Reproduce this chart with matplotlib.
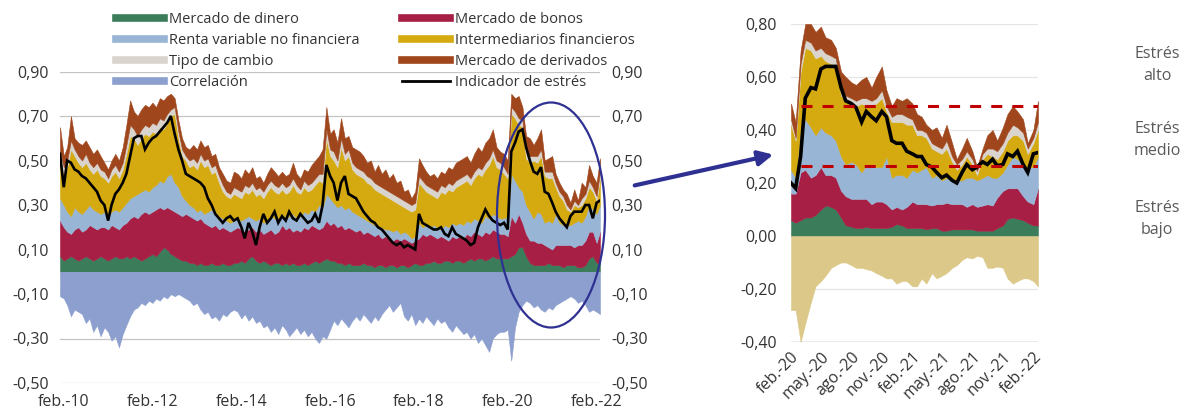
import matplotlib
matplotlib.use("Agg")
import matplotlib.pyplot as plt
import numpy as np
import pandas as pd
from matplotlib.lines import Line2D
from matplotlib.patches import Ellipse, FancyArrowPatch
from matplotlib.ticker import FuncFormatter

plt.rcParams["font.family"] = ["Open Sans", "DejaVu Sans"]

# -------------------------------
# Left panel: monthly values, Jan 2010 - Mar 2022 (one row per year)
# -------------------------------
dinero = [
    0.07, 0.05, 0.06, 0.07, 0.06, 0.05, 0.06, 0.07, 0.06, 0.05, 0.06, 0.07,
    0.06, 0.05, 0.06, 0.07, 0.06, 0.06, 0.07, 0.06, 0.07, 0.06, 0.05, 0.06,
    0.07, 0.08, 0.07, 0.09, 0.11, 0.10, 0.08, 0.07, 0.06, 0.05, 0.05, 0.04,
    0.04, 0.03, 0.04, 0.03, 0.03, 0.04, 0.03, 0.03, 0.04, 0.03, 0.03, 0.04,
    0.04, 0.05, 0.04, 0.06, 0.07, 0.05, 0.04, 0.05, 0.04, 0.03, 0.04, 0.04,
    0.03, 0.04, 0.03, 0.04, 0.03, 0.03, 0.04, 0.03, 0.04, 0.05, 0.04, 0.05,
    0.06, 0.05, 0.05, 0.04, 0.04, 0.03, 0.04, 0.03, 0.03, 0.03, 0.04, 0.03,
    0.03, 0.02, 0.03, 0.03, 0.02, 0.03, 0.03, 0.02, 0.03, 0.03, 0.02, 0.03,
    0.04, 0.03, 0.03, 0.04, 0.04, 0.05, 0.04, 0.04, 0.05, 0.05, 0.04, 0.05,
    0.05, 0.04, 0.05, 0.06, 0.05, 0.06, 0.06, 0.05, 0.06, 0.07, 0.06, 0.06,
    0.06, 0.06, 0.07, 0.08, 0.11, 0.11, 0.07, 0.04, 0.03, 0.03, 0.03, 0.03,
    0.04, 0.03, 0.03, 0.03, 0.02, 0.03, 0.03, 0.03, 0.02, 0.02, 0.03, 0.06,
    0.07, 0.04, 0.04,
]
bonos = [
    0.16, 0.15, 0.12, 0.10, 0.13, 0.15, 0.12, 0.12, 0.15, 0.15, 0.13, 0.13,
    0.14, 0.14, 0.15, 0.13, 0.13, 0.15, 0.15, 0.18, 0.18, 0.18, 0.21, 0.21,
    0.19, 0.19, 0.21, 0.20, 0.17, 0.19, 0.20, 0.20, 0.20, 0.20, 0.21, 0.21,
    0.20, 0.20, 0.20, 0.19, 0.18, 0.16, 0.18, 0.16, 0.16, 0.16, 0.15, 0.15,
    0.16, 0.14, 0.14, 0.13, 0.13, 0.13, 0.15, 0.12, 0.14, 0.16, 0.13, 0.14,
    0.18, 0.15, 0.17, 0.14, 0.16, 0.15, 0.16, 0.16, 0.17, 0.15, 0.15, 0.15,
    0.17, 0.16, 0.17, 0.16, 0.17, 0.16, 0.16, 0.16, 0.15, 0.16, 0.13, 0.15,
    0.14, 0.14, 0.14, 0.12, 0.14, 0.12, 0.11, 0.13, 0.11, 0.12, 0.12, 0.10,
    0.10, 0.12, 0.14, 0.12, 0.13, 0.11, 0.11, 0.12, 0.10, 0.09, 0.12, 0.10,
    0.11, 0.11, 0.12, 0.10, 0.13, 0.11, 0.10, 0.13, 0.11, 0.12, 0.12, 0.11,
    0.11, 0.10, 0.18, 0.14, 0.15, 0.11, 0.10, 0.10, 0.11, 0.10, 0.10, 0.09,
    0.07, 0.07, 0.09, 0.09, 0.10, 0.09, 0.09, 0.08, 0.10, 0.10, 0.11, 0.12,
    0.11, 0.09, 0.14,
]
renta_var = [
    0.10, 0.10, 0.09, 0.08, 0.10, 0.07, 0.08, 0.09, 0.09, 0.08, 0.08, 0.06,
    0.07, 0.06, 0.06, 0.08, 0.08, 0.08, 0.09, 0.09, 0.09, 0.11, 0.10, 0.10,
    0.10, 0.11, 0.11, 0.12, 0.12, 0.14, 0.16, 0.13, 0.12, 0.09, 0.06, 0.05,
    0.05, 0.04, 0.04, 0.04, 0.06, 0.08, 0.06, 0.06, 0.04, 0.04, 0.04, 0.04,
    0.04, 0.04, 0.06, 0.06, 0.04, 0.05, 0.05, 0.05, 0.05, 0.06, 0.07, 0.05,
    0.05, 0.05, 0.05, 0.08, 0.05, 0.07, 0.07, 0.07, 0.07, 0.07, 0.11, 0.09,
    0.12, 0.12, 0.09, 0.09, 0.09, 0.09, 0.09, 0.08, 0.08, 0.06, 0.07, 0.05,
    0.05, 0.05, 0.03, 0.05, 0.03, 0.04, 0.04, 0.04, 0.03, 0.03, 0.03, 0.02,
    0.02, 0.07, 0.03, 0.05, 0.03, 0.05, 0.05, 0.03, 0.06, 0.06, 0.06, 0.06,
    0.06, 0.06, 0.06, 0.06, 0.06, 0.06, 0.06, 0.07, 0.07, 0.07, 0.07, 0.07,
    0.07, 0.09, 0.19, 0.19, 0.12, 0.14, 0.13, 0.13, 0.10, 0.14, 0.13, 0.10,
    0.12, 0.12, 0.14, 0.10, 0.09, 0.09, 0.09, 0.11, 0.11, 0.10, 0.11, 0.12,
    0.10, 0.13, 0.12,
]
intermediarios = [
    0.17, 0.14, 0.20, 0.30, 0.23, 0.22, 0.21, 0.21, 0.16, 0.16, 0.19, 0.17,
    0.15, 0.15, 0.16, 0.17, 0.15, 0.17, 0.22, 0.28, 0.26, 0.22, 0.24, 0.25,
    0.25, 0.25, 0.23, 0.24, 0.24, 0.24, 0.26, 0.31, 0.22, 0.18, 0.18, 0.17,
    0.19, 0.19, 0.22, 0.21, 0.21, 0.16, 0.18, 0.15, 0.12, 0.11, 0.11, 0.12,
    0.10, 0.10, 0.12, 0.10, 0.13, 0.11, 0.11, 0.11, 0.13, 0.13, 0.12, 0.12,
    0.11, 0.11, 0.11, 0.13, 0.12, 0.10, 0.11, 0.10, 0.09, 0.12, 0.11, 0.11,
    0.25, 0.19, 0.19, 0.18, 0.26, 0.22, 0.23, 0.19, 0.18, 0.18, 0.18, 0.17,
    0.17, 0.16, 0.16, 0.15, 0.15, 0.14, 0.14, 0.12, 0.13, 0.11, 0.11, 0.12,
    0.12, 0.18, 0.18, 0.15, 0.15, 0.13, 0.13, 0.17, 0.14, 0.17, 0.14, 0.17,
    0.17, 0.19, 0.18, 0.17, 0.18, 0.21, 0.21, 0.21, 0.24, 0.26, 0.22, 0.22,
    0.20, 0.17, 0.27, 0.28, 0.28, 0.29, 0.21, 0.22, 0.26, 0.22, 0.26, 0.21,
    0.19, 0.20, 0.12, 0.12, 0.11, 0.07, 0.06, 0.08, 0.06, 0.08, 0.08, 0.08,
    0.08, 0.06, 0.12,
]
tipo_cambio = [
    0.04, 0.03, 0.03, 0.04, 0.03, 0.03, 0.03, 0.04, 0.03, 0.03, 0.03, 0.03,
    0.03, 0.02, 0.03, 0.03, 0.03, 0.03, 0.04, 0.05, 0.04, 0.04, 0.04, 0.04,
    0.04, 0.04, 0.04, 0.04, 0.04, 0.04, 0.03, 0.03, 0.03, 0.03, 0.02, 0.03,
    0.03, 0.03, 0.03, 0.03, 0.03, 0.03, 0.03, 0.03, 0.03, 0.02, 0.02, 0.03,
    0.03, 0.03, 0.03, 0.03, 0.03, 0.03, 0.03, 0.03, 0.03, 0.03, 0.03, 0.03,
    0.03, 0.03, 0.03, 0.03, 0.03, 0.02, 0.03, 0.03, 0.03, 0.03, 0.03, 0.04,
    0.04, 0.03, 0.04, 0.03, 0.04, 0.03, 0.03, 0.03, 0.03, 0.03, 0.03, 0.03,
    0.03, 0.03, 0.03, 0.03, 0.03, 0.03, 0.03, 0.03, 0.03, 0.03, 0.03, 0.03,
    0.03, 0.03, 0.03, 0.03, 0.03, 0.03, 0.03, 0.03, 0.03, 0.03, 0.03, 0.03,
    0.03, 0.03, 0.03, 0.03, 0.03, 0.03, 0.03, 0.03, 0.03, 0.03, 0.03, 0.03,
    0.03, 0.02, 0.03, 0.03, 0.03, 0.03, 0.03, 0.03, 0.02, 0.03, 0.03, 0.02,
    0.03, 0.03, 0.02, 0.02, 0.02, 0.02, 0.01, 0.02, 0.01, 0.03, 0.02, 0.03,
    0.02, 0.02, 0.03,
]
derivados = [
    0.11, 0.05, 0.06, 0.11, 0.05, 0.06, 0.07, 0.06, 0.07, 0.06, 0.06, 0.06,
    0.04, 0.04, 0.04, 0.05, 0.05, 0.07, 0.09, 0.11, 0.08, 0.09, 0.09, 0.09,
    0.09, 0.09, 0.08, 0.09, 0.09, 0.08, 0.07, 0.04, 0.05, 0.05, 0.04, 0.05,
    0.06, 0.06, 0.06, 0.06, 0.06, 0.05, 0.05, 0.04, 0.05, 0.05, 0.05, 0.07,
    0.07, 0.06, 0.07, 0.06, 0.07, 0.05, 0.05, 0.04, 0.05, 0.06, 0.06, 0.05,
    0.05, 0.05, 0.05, 0.07, 0.05, 0.05, 0.05, 0.06, 0.08, 0.08, 0.08, 0.11,
    0.10, 0.07, 0.10, 0.08, 0.09, 0.07, 0.06, 0.07, 0.08, 0.08, 0.07, 0.06,
    0.08, 0.05, 0.09, 0.06, 0.09, 0.06, 0.09, 0.06, 0.08, 0.04, 0.06, 0.03,
    0.05, 0.08, 0.07, 0.06, 0.05, 0.07, 0.06, 0.06, 0.06, 0.07, 0.07, 0.08,
    0.08, 0.08, 0.08, 0.07, 0.08, 0.09, 0.08, 0.09, 0.09, 0.09, 0.06, 0.05,
    0.06, 0.06, 0.06, 0.06, 0.10, 0.06, 0.07, 0.08, 0.05, 0.08, 0.09, 0.05,
    0.06, 0.07, 0.04, 0.04, 0.03, 0.05, 0.03, 0.05, 0.02, 0.07, 0.03, 0.07,
    0.05, 0.06, 0.06,
]
correlacion = [
    -0.11, -0.12, -0.15, -0.20, -0.17, -0.18, -0.19, -0.23, -0.21, -0.27, -0.24, -0.29,
    -0.25, -0.27, -0.31, -0.29, -0.34, -0.28, -0.24, -0.20, -0.17, -0.16, -0.14, -0.15,
    -0.13, -0.14, -0.12, -0.13, -0.11, -0.12, -0.10, -0.11, -0.10, -0.11, -0.12, -0.13,
    -0.15, -0.14, -0.17, -0.19, -0.18, -0.21, -0.20, -0.22, -0.19, -0.20, -0.18, -0.17,
    -0.18, -0.21, -0.19, -0.22, -0.20, -0.23, -0.22, -0.25, -0.24, -0.27, -0.25, -0.28,
    -0.24, -0.26, -0.29, -0.27, -0.25, -0.28, -0.26, -0.29, -0.27, -0.30, -0.32, -0.29,
    -0.30, -0.26, -0.22, -0.24, -0.21, -0.23, -0.25, -0.22, -0.20, -0.22, -0.19, -0.21,
    -0.23, -0.20, -0.22, -0.19, -0.17, -0.15, -0.18, -0.16, -0.14, -0.20, -0.22, -0.19,
    -0.24, -0.21, -0.23, -0.20, -0.22, -0.24, -0.21, -0.23, -0.22, -0.25, -0.27, -0.24,
    -0.26, -0.28, -0.27, -0.30, -0.28, -0.32, -0.30, -0.33, -0.36, -0.30, -0.28, -0.27,
    -0.27, -0.26, -0.40, -0.25, -0.18, -0.15, -0.13, -0.14, -0.16, -0.15, -0.17, -0.18,
    -0.16, -0.17, -0.15, -0.14, -0.13, -0.12, -0.11, -0.12, -0.14, -0.13, -0.15, -0.18,
    -0.17, -0.18, -0.19,
]
indicador = [
    0.53, 0.38, 0.50, 0.49, 0.46, 0.45, 0.43, 0.42, 0.40, 0.38, 0.36, 0.32,
    0.30, 0.23, 0.30, 0.35, 0.37, 0.40, 0.44, 0.52, 0.60, 0.61, 0.61, 0.55,
    0.58, 0.60, 0.61, 0.63, 0.65, 0.67, 0.70, 0.62, 0.55, 0.50, 0.44, 0.43,
    0.42, 0.41, 0.40, 0.38, 0.33, 0.30, 0.26, 0.24, 0.22, 0.24, 0.25, 0.23,
    0.24, 0.20, 0.15, 0.22, 0.18, 0.12, 0.20, 0.26, 0.22, 0.24, 0.27, 0.22,
    0.25, 0.23, 0.27, 0.24, 0.23, 0.26, 0.24, 0.22, 0.23, 0.26, 0.22, 0.30,
    0.48, 0.43, 0.40, 0.32, 0.40, 0.43, 0.35, 0.34, 0.33, 0.30, 0.27, 0.25,
    0.23, 0.22, 0.20, 0.19, 0.17, 0.15, 0.13, 0.12, 0.13, 0.11, 0.12, 0.11,
    0.10, 0.26, 0.22, 0.21, 0.20, 0.19, 0.19, 0.20, 0.17, 0.16, 0.20, 0.17,
    0.16, 0.15, 0.14, 0.12, 0.13, 0.20, 0.24, 0.28, 0.25, 0.23, 0.22, 0.21,
    0.22, 0.19, 0.54, 0.58, 0.63, 0.64, 0.56, 0.50, 0.45, 0.44, 0.47, 0.36,
    0.35, 0.31, 0.27, 0.24, 0.22, 0.20, 0.25, 0.27, 0.27, 0.27, 0.30, 0.30,
    0.24, 0.31, 0.32,
]

# -------------------------------
# Right panel: semi-monthly values, Feb 2020 - Mar 2022 (one row per 5 months)
# -------------------------------
dinero_z = [
    0.06, 0.05, 0.06, 0.07, 0.07, 0.08, 0.10, 0.115, 0.11, 0.10,
    0.07, 0.04, 0.035, 0.03, 0.03, 0.035, 0.03, 0.03, 0.03, 0.03,
    0.035, 0.045, 0.04, 0.03, 0.03, 0.03, 0.03, 0.025, 0.03, 0.03,
    0.02, 0.02, 0.025, 0.025, 0.025, 0.025, 0.025, 0.02, 0.02, 0.02,
    0.02, 0.03, 0.04, 0.065, 0.07, 0.065, 0.06, 0.05, 0.04, 0.04,
]
bonos_z = [
    0.10, 0.11, 0.18, 0.18, 0.15, 0.15, 0.16, 0.115, 0.12, 0.12,
    0.10, 0.11, 0.105, 0.11, 0.11, 0.105, 0.09, 0.10, 0.10, 0.09,
    0.065, 0.065, 0.06, 0.08, 0.10, 0.09, 0.09, 0.095, 0.085, 0.09,
    0.10, 0.105, 0.095, 0.095, 0.095, 0.085, 0.095, 0.09, 0.095, 0.10,
    0.095, 0.115, 0.13, 0.115, 0.11, 0.115, 0.09, 0.08, 0.08, 0.14,
]
renta_var_z = [
    0.09, 0.06, 0.16, 0.19, 0.19, 0.15, 0.15, 0.16, 0.15, 0.14,
    0.13, 0.12, 0.14, 0.13, 0.10, 0.13, 0.14, 0.13, 0.13, 0.18,
    0.12, 0.12, 0.13, 0.11, 0.12, 0.12, 0.13, 0.14, 0.105, 0.11,
    0.09, 0.095, 0.09, 0.09, 0.09, 0.11, 0.10, 0.10, 0.105, 0.11,
    0.105, 0.075, 0.07, 0.09, 0.12, 0.11, 0.12, 0.13, 0.14, 0.12,
]
intermediarios_z = [
    0.17, 0.14, 0.22, 0.27, 0.29, 0.29, 0.27, 0.27, 0.27, 0.28,
    0.23, 0.24, 0.22, 0.22, 0.26, 0.22, 0.23, 0.24, 0.26, 0.17,
    0.21, 0.20, 0.20, 0.20, 0.17, 0.14, 0.13, 0.11, 0.11, 0.09,
    0.10, 0.11, 0.07, 0.04, 0.06, 0.08, 0.05, 0.02, 0.07, 0.08,
    0.08, 0.07, 0.08, 0.09, 0.08, 0.09, 0.09, 0.05, 0.09, 0.10,
]
tipo_cambio_z = [
    0.02, 0.01, 0.03, 0.03, 0.03, 0.03, 0.03, 0.03, 0.03, 0.03,
    0.03, 0.02, 0.02, 0.02, 0.02, 0.03, 0.02, 0.02, 0.03, 0.02,
    0.02, 0.03, 0.03, 0.03, 0.02, 0.02, 0.02, 0.02, 0.02, 0.02,
    0.02, 0.03, 0.02, 0.02, 0.02, 0.02, 0.02, 0.015, 0.02, 0.02,
    0.03, 0.03, 0.03, 0.03, 0.04, 0.03, 0.03, 0.02, 0.02, 0.03,
]
derivados_z = [
    0.06, 0.06, 0.05, 0.06, 0.07, 0.07, 0.08, 0.06, 0.06, 0.04,
    0.06, 0.07, 0.06, 0.06, 0.07, 0.08, 0.05, 0.08, 0.09, 0.06,
    0.04, 0.06, 0.05, 0.07, 0.06, 0.06, 0.05, 0.03, 0.05, 0.07,
    0.04, 0.06, 0.05, 0.02, 0.04, 0.05, 0.03, 0.015, 0.02, 0.05,
    0.07, 0.04, 0.06, 0.07, 0.07, 0.06, 0.05, 0.02, 0.03, 0.08,
]
correlacion_z = [
    -0.28, -0.28, -0.40, -0.33, -0.25, -0.19, -0.17, -0.15, -0.12, -0.11,
    -0.10, -0.10, -0.11, -0.12, -0.12, -0.125, -0.13, -0.14, -0.15, -0.16,
    -0.16, -0.18, -0.17, -0.17, -0.19, -0.19, -0.16, -0.18, -0.14, -0.16,
    -0.15, -0.14, -0.12, -0.11, -0.09, -0.08, -0.085, -0.075, -0.08, -0.12,
    -0.12, -0.115, -0.12, -0.16, -0.18, -0.17, -0.16, -0.16, -0.17, -0.19,
]
indicador_z = [
    0.20, 0.18, 0.30, 0.52, 0.56, 0.555, 0.63, 0.64, 0.64, 0.64,
    0.56, 0.51, 0.50, 0.485, 0.43, 0.47, 0.45, 0.435, 0.47, 0.45,
    0.36, 0.35, 0.35, 0.32, 0.31, 0.30, 0.30, 0.27, 0.26, 0.24,
    0.22, 0.23, 0.21, 0.20, 0.24, 0.27, 0.25, 0.26, 0.28, 0.27,
    0.29, 0.265, 0.27, 0.31, 0.30, 0.32, 0.27, 0.24, 0.31, 0.315,
]

umbral_alto = 0.49
umbral_medio = 0.265

labels = [
    "Mercado de dinero", "Mercado de bonos", "Renta variable no financiera",
    "Intermediarios financieros", "Tipo de cambio", "Mercado de derivados",
    "Correlación", "Indicador de estrés",
]
ticks_left = ["feb.-10", "feb.-12", "feb.-14", "feb.-16", "feb.-18", "feb.-20", "feb.-22"]
ticks_right = ["feb.-20", "may.-20", "ago.-20", "nov.-20", "feb.-21",
               "may.-21", "ago.-21", "nov.-21", "feb.-22"]

# -------------------------------
# Style
# -------------------------------
stack_colors = ["#3b7d5a", "#a81f45", "#99b5d5", "#d4aa10", "#d9d4cd", "#a0461c"]
corr_color = "#8c9fcf"
corr_color_zoom = "#dcc98a"
navy = "#2e3192"
text_color = "#333333"

W, H = 1192, 412


def px_box(x0, y_top, x1, y_bottom):
    """Axes rectangle from pixel coordinates of the reference image."""
    return [x0 / W, 1 - y_bottom / H, (x1 - x0) / W, (y_bottom - y_top) / H]


def comma_fmt(v, _):
    return f"{round(v, 2) + 0.0:.2f}".replace(".", ",")


def draw_panel(ax, dates, series, corr, ind, corr_c, ind_lw):
    polys = ax.stackplot(dates, *series, colors=stack_colors, lw=0)
    for p, c in zip(polys, stack_colors):
        p.set_edgecolor(c)
        p.set_linewidth(0.4)
    ax.fill_between(dates, corr, 0, color=corr_c, lw=0.4, edgecolor=corr_c)
    ax.plot(dates, ind, color="black", lw=ind_lw, solid_joinstyle="miter")
    ax.set_xlim(dates[0], dates[-1])
    ax.set_axisbelow(True)
    for s in ax.spines.values():
        s.set_visible(False)
    ax.yaxis.set_major_formatter(FuncFormatter(comma_fmt))


fig = plt.figure(figsize=(W / 100, H / 100), dpi=100)

# Left panel
dates_m = pd.date_range("2010-01-01", periods=len(indicador), freq="MS")
axL = fig.add_axes(px_box(60, 71.5, 600, 383))
draw_panel(axL, dates_m,
           [dinero, bonos, renta_var, intermediarios, tipo_cambio, derivados],
           correlacion, indicador, corr_color, 1.9)
axL.set_ylim(-0.5, 0.9)
axL.set_yticks(np.arange(-0.5, 0.91, 0.2))
axL.grid(axis="y", color="#c4c4c4", lw=0.9)
axL.set_xticks(pd.to_datetime([f"20{t[-2:]}-02-01" for t in ticks_left]))
axL.set_xticklabels(ticks_left)
axL.tick_params(length=0, labelsize=11.5, labelcolor=text_color,
                labelright=True, pad=8)

# Right panel (zoom on 2020-2022)
dates_z = pd.date_range("2020-02-01", periods=len(indicador_z), freq="SMS")
axR = fig.add_axes(px_box(791, 24, 1038, 342))
draw_panel(axR, dates_z,
           [dinero_z, bonos_z, renta_var_z, intermediarios_z, tipo_cambio_z, derivados_z],
           correlacion_z, indicador_z, corr_color_zoom, 2.6)
axR.set_ylim(-0.4, 0.8)
axR.set_yticks(np.arange(-0.4, 0.81, 0.2))
axR.grid(axis="y", color="#e4e4e4", lw=0.9)
axR.axhline(-0.4, color="#a6a6a6", lw=1.0)
for lvl in (umbral_alto, umbral_medio):
    axR.axhline(lvl, xmin=0.04, color="#c00000", lw=2.2, ls=(0, (3.6, 3.3)))
month_num = {"feb": 2, "may": 5, "ago": 8, "nov": 11}
axR.set_xticks(pd.to_datetime([f"20{t[-2:]}-{month_num[t[:3]]:02d}-01" for t in ticks_right]))
axR.set_xticklabels(ticks_right, rotation=45, ha="right", rotation_mode="anchor")
axR.tick_params(length=0, labelsize=11.5, labelcolor=text_color, pad=10)
axR.tick_params(axis="x", pad=5)

# Legend
handles = [Line2D([], [], color=c, lw=5.5) for c in stack_colors]
handles.append(Line2D([], [], color=corr_color, lw=5.5))
handles.append(Line2D([], [], color="black", lw=2))
order = [0, 2, 4, 6, 1, 3, 5, 7]
fig.legend([handles[i] for i in order], [labels[i] for i in order], ncol=2,
           loc="upper left", bbox_to_anchor=(116 / W, 1 - 12 / H), frameon=False,
           fontsize=10.5, handlelength=3.3, handletextpad=0.35,
           labelspacing=0.42, columnspacing=2.9, borderaxespad=0, borderpad=0,
           labelcolor=text_color)

# Ellipse around the 2020-2022 period and arrow to the zoom panel
fig.add_artist(Ellipse((551 / W, 1 - 215 / H), 108 / W, 225 / H,
                       transform=fig.transFigure, fill=False, ec=navy, lw=1.6))
fig.add_artist(FancyArrowPatch((632 / W, 1 - 186 / H), (776 / W, 1 - 154 / H),
                               transform=fig.transFigure, arrowstyle="-|>",
                               mutation_scale=22, lw=3, color=navy))

# Stress bands labels
for txt, y in [("Estrés\nalto", 65), ("Estrés\nmedio", 140), ("Estrés\nbajo", 219)]:
    fig.text(1157 / W, 1 - y / H, txt, ha="center", va="center",
             fontsize=11.5, color="#595959", linespacing=1.55)

fig.savefig("out.png", dpi=100, facecolor="white")
